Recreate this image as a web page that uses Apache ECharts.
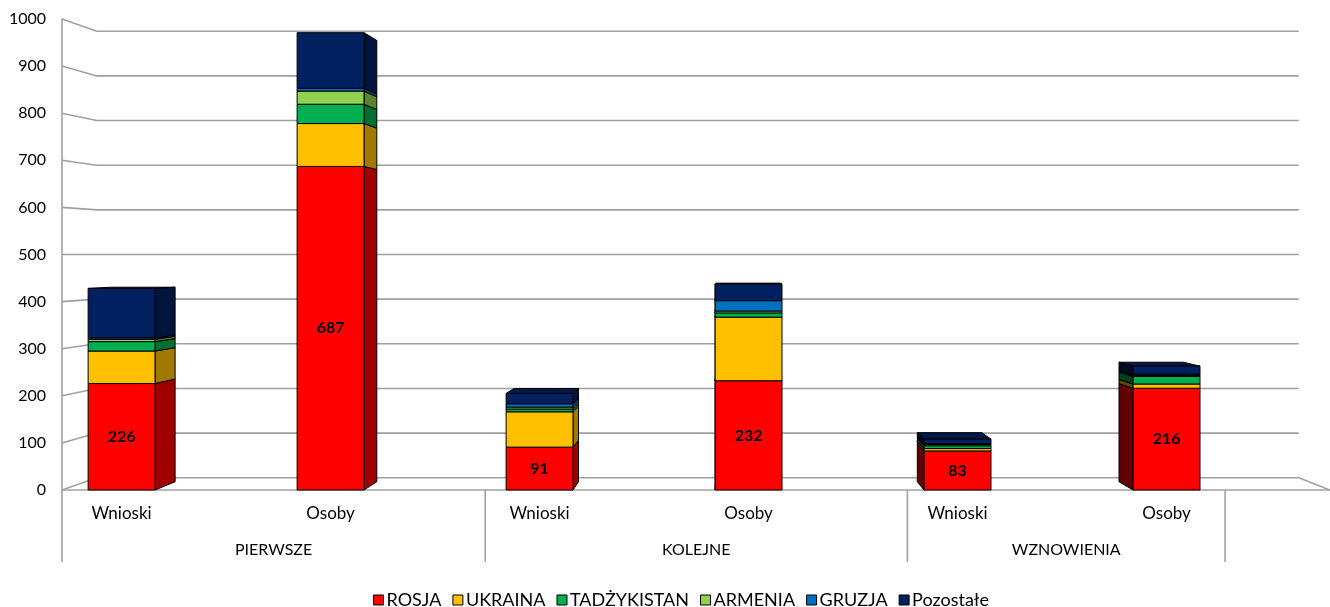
<!DOCTYPE html>
<html>
<head>
<meta charset="utf-8">
<script src="https://cdn.jsdelivr.net/npm/echarts@6/dist/echarts.min.js"></script>
<style>
html, body { margin: 0; padding: 0; background: #fff; }
#main { width: 1330px; height: 607px; }
</style>
</head>
<body>
<div id="main"></div>
<script>
// categories and values
var categories = ['Wnioski', 'Osoby', 'Wnioski', 'Osoby', 'Wnioski', 'Osoby'];
var groups = ['PIERWSZE', 'KOLEJNE', 'WZNOWIENIA'];
var yTicks = [0, 100, 200, 300, 400, 500, 600, 700, 800, 900, 1000];
var names = ['ROSJA', 'UKRAINA', 'TADŻYKISTAN', 'ARMENIA', 'GRUZJA', 'Pozostałe'];
var rosja     = [226, 687, 91, 232, 83, 216];
var ukraina   = [69, 91, 75, 135, 5, 9];
var tadzyk    = [20, 41, 6, 9, 6, 16];
var armenia   = [5, 28, 4, 4, 3, 2];
var gruzja    = [3, 6, 7, 22, 1, 3];
var pozostale = [105, 118, 22, 35, 10, 17];
var colors = ['#FF0000', '#FFC000', '#00B050', '#92D050', '#0070C0', '#002060'];

// layout of the fake 3d box (axis units)
var XMIN = -0.285, XMAX = 5.782;
var BAR_W = 0.32;
var EYE_X = 2.91, EYE_Y = 500;   // vanishing point
var WALL_S = 0.948;              // back wall scale
var BAR_S = 0.965;               // back face of bars
var groupEdges = [-0.285, 1.74, 3.76, 5.28];

var layers = [rosja, ukraina, tadzyk, armenia, gruzja, pozostale];

function shade(hex, f) {
    var n = parseInt(hex.slice(1), 16);
    var r = Math.round(((n >> 16) & 255) * f);
    var g = Math.round(((n >> 8) & 255) * f);
    var b = Math.round((n & 255) * f);
    return 'rgb(' + r + ',' + g + ',' + b + ')';
}

function back(p, vp, s) {
    return [vp[0] + (p[0] - vp[0]) * s, vp[1] + (p[1] - vp[1]) * s];
}

function makeBar(color, withLabel) {
    return function (params, api) {
        var i = api.value(0), b = api.value(1), t = api.value(2), v = api.value(3);
        if (t <= b) return;
        var w = api.size([BAR_W, 0])[0];
        var pb = api.coord([i, b]), pt = api.coord([i, t]);
        var vp = api.coord([EYE_X, EYE_Y]);
        var x0 = pb[0] - w / 2, x1 = pb[0] + w / 2, yb = pb[1], yt = pt[1];
        var line = { stroke: '#000', lineWidth: 1 };
        var kids = [];
        // top face only when it is below eye level
        if (yt > vp[1]) {
            kids.push({
                type: 'polygon',
                shape: { points: [[x0, yt], [x1, yt], back([x1, yt], vp, BAR_S), back([x0, yt], vp, BAR_S)] },
                style: Object.assign({ fill: shade(color, 0.8) }, line)
            });
        }
        var right = pb[0] < vp[0];
        var sx = right ? x1 : x0;
        kids.push({
            type: 'polygon',
            shape: { points: [[sx, yb], [sx, yt], back([sx, yt], vp, BAR_S), back([sx, yb], vp, BAR_S)] },
            style: Object.assign({ fill: shade(color, right ? 0.63 : 0.38) }, line)
        });
        kids.push({
            type: 'rect',
            shape: { x: x0, y: yt, width: w, height: yb - yt },
            style: Object.assign({ fill: color }, line)
        });
        if (withLabel) {
            kids.push({
                type: 'text',
                style: {
                    text: String(v), x: pb[0], y: (yb + yt) / 2,
                    align: 'center', verticalAlign: 'middle',
                    font: 'bold 16px Lato', fill: '#000'
                }
            });
        }
        return { type: 'group', children: kids };
    };
}

var barSeries = [];
var base = [0, 0, 0, 0, 0, 0];
for (var k = 0; k < layers.length; k++) {
    var d = [];
    for (var i = 0; i < categories.length; i++) {
        d.push([i, base[i], base[i] + layers[k][i], layers[k][i]]);
        base[i] += layers[k][i];
    }
    barSeries.push({
        name: names[k],
        type: 'custom',
        clip: false,
        z: 3,
        itemStyle: { color: colors[k] },
        encode: { x: 0, y: 2 },
        renderItem: makeBar(colors[k], k === 0),
        data: d
    });
}

var gray = '#a0a0a0';

var wallSeries = {
    type: 'custom',
    silent: true,
    clip: false,
    z: 1,
    encode: { x: 0, y: 1 },
    renderItem: function (params, api) {
        var v = api.value(1);
        var vp = api.coord([EYE_X, EYE_Y]);
        var fl = api.coord([XMIN, v]), fr = api.coord([XMAX, v]);
        var bl = back(fl, vp, WALL_S), br = back(fr, vp, WALL_S);
        var st = { stroke: gray, lineWidth: 1.6, fill: null };
        var kids = [{ type: 'polyline', shape: { points: [fl, bl, br] }, style: st }];
        if (v === 0) {
            kids.push({ type: 'polyline', shape: { points: [br, fr] }, style: st });
            kids.push({ type: 'line', shape: { x1: fl[0], y1: fl[1], x2: fr[0], y2: fr[1] }, style: st });
        }
        return { type: 'group', children: kids };
    },
    data: yTicks.map(function (v) { return [XMIN, v]; })
};

var labelSeries = {
    type: 'custom',
    silent: true,
    clip: false,
    z: 2,
    encode: { x: 0, y: 1 },
    renderItem: function (params, api) {
        var p = api.coord([api.value(0), 0]);
        return {
            type: 'text',
            style: {
                text: categories[params.dataIndex], x: p[0], y: p[1] + 24,
                align: 'center', verticalAlign: 'middle',
                font: '17px Lato', fill: '#000'
            }
        };
    },
    data: categories.map(function (c, i) { return [i, 0]; })
};

var groupSeries = {
    type: 'custom',
    silent: true,
    clip: false,
    z: 2,
    encode: { x: 0, y: 1 },
    renderItem: function (params, api) {
        var j = params.dataIndex;
        var a = api.coord([groupEdges[j], 0]);
        var kids = [{
            type: 'line',
            shape: { x1: a[0], y1: a[1], x2: a[0], y2: a[1] + 72 },
            style: { stroke: gray, lineWidth: 1.6 }
        }];
        if (j < groups.length) {
            var b = api.coord([groupEdges[j + 1], 0]);
            kids.push({
                type: 'text',
                style: {
                    text: groups[j], x: (a[0] + b[0]) / 2, y: a[1] + 60,
                    align: 'center', verticalAlign: 'middle',
                    font: '16px Lato', fill: '#000'
                }
            });
        }
        return { type: 'group', children: kids };
    },
    data: groupEdges.map(function (e) { return [e, 0]; })
};

var myChart = echarts.init(document.getElementById('main'));

option = {
    animation: false,
    textStyle: { fontFamily: 'Lato' },
    grid: { left: 62, right: 0, top: 19, bottom: 117 },
    legend: {
        data: names,
        top: 586,
        left: 368,
        icon: 'rect',
        itemWidth: 10,
        itemHeight: 10,
        itemGap: 11,
        selectedMode: false,
        itemStyle: { borderColor: '#000', borderWidth: 1 },
        textStyle: { fontSize: 18, color: '#000', fontFamily: 'Lato', padding: [0, 0, 0, -2] }
    },
    xAxis: {
        type: 'value',
        min: XMIN,
        max: XMAX,
        show: false
    },
    yAxis: {
        type: 'value',
        min: 0,
        max: 1000,
        interval: 100,
        axisLine: { show: true, onZero: false, lineStyle: { color: gray, width: 1.6 } },
        axisTick: { show: false },
        splitLine: { show: false },
        axisLabel: {
            color: '#000', fontSize: 16, fontFamily: 'Lato', margin: 16,
            formatter: function (v) { return String(v); }
        }
    },
    series: [wallSeries, labelSeries, groupSeries].concat(barSeries)
};

myChart.setOption(option);
</script>
</body>
</html>
